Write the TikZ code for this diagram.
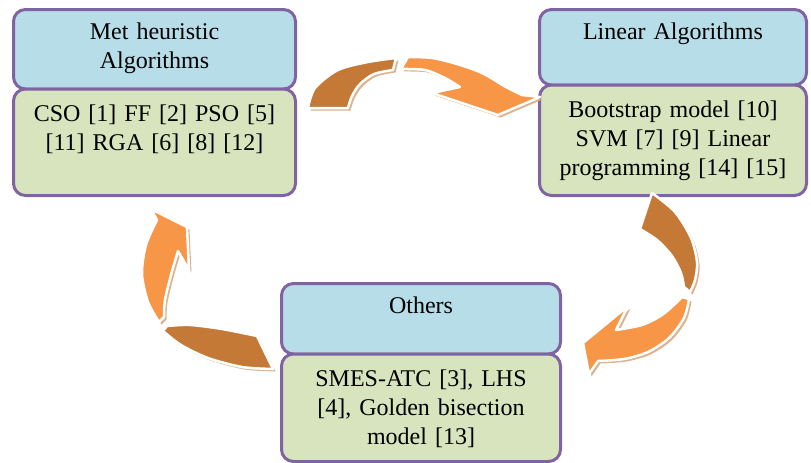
\documentclass[tikz,border=0pt]{standalone}
\usepackage{fontspec}
\setmainfont{Liberation Serif}
\usetikzlibrary{positioning, shadows}

\definecolor{cajaazul}{RGB}{183,221,232}
\definecolor{cajaverde}{RGB}{215,228,189}
\definecolor{borde}{RGB}{128,100,162}
\definecolor{naranjaosc}{RGB}{196,121,54}
\definecolor{naranjacla}{RGB}{247,150,70}
\definecolor{sombra}{RGB}{214,172,134}

\begin{document}
\begin{tikzpicture}[x=1pt, y=-1pt, node distance=0pt,
    caja/.style={draw=borde, line width=3pt, rounded corners=12pt, inner xsep=6pt, inner ysep=0pt,
        outer sep=0pt, align=center, font=\fontsize{24}{29}\selectfont},
    titulo/.style={caja, fill=cajaazul, text height=30pt},
    lista/.style={caja, fill=cajaverde, text height=32.5pt},
    pieza/.style={draw=white, line width=2.5pt, line join=round,
        drop shadow={shadow xshift=2.5pt, shadow yshift=-2.5pt, fill=sombra, opacity=0.9}}]
    \useasboundingbox (0,0) rectangle (811,463);

    % Definir cajas de cada grupo
    \node (heur) [titulo, anchor=north, text width=270pt, text depth=49.5pt] at (154.5,9.5) {Met heuristic\\Algorithms};
    \node (heurlist) [lista, below=of heur, text width=270pt, text depth=74pt] {CSO [1] FF [2] PSO [5]\\{}[11] RGA [6] [8] [12]};
    \node (lin) [titulo, anchor=north, text width=255pt, text depth=45.5pt] at (673,9.5) {Linear Algorithms};
    \node (linlist) [lista, below=of lin, text width=255pt, text depth=78pt] {Bootstrap model [10]\\SVM [7] [9] Linear\\programming [14] [15]};
    \node (oth) [titulo, anchor=north, text width=267pt, text depth=40.5pt] at (421,283.5) {Others};
    \node (othlist) [lista, below=of oth, text width=267pt, text depth=75pt] {SMES-ATC [3], LHS\\{}[4], Golden bisection\\model [13]};

    % Flecha superior
    \filldraw[pieza, fill=naranjaosc] plot[smooth] coordinates {(308,108) (315,88) (338,70) (368,62) (396,58)}
        -- plot[smooth] coordinates {(393,70) (374,74) (360,84) (352,96) (348,108)} -- cycle;
    \filldraw[pieza, fill=naranjacla] plot[smooth] coordinates {(408,57) (432,58) (457,64) (482,73) (506,87) (522,95)}
        -- (540,97) -- (498,115) -- (432,93)
        -- plot[smooth] coordinates {(460,87) (445,78) (425,70) (401,69)} -- cycle;

    % Flecha derecha
    \filldraw[pieza, fill=naranjaosc] plot[smooth] coordinates {(652,193) (675,212) (691,238) (697,262) (695,280) (690,292)}
        -- plot[smooth] coordinates {(684,287) (681,273) (672,256) (657,240) (640,229)} -- cycle;
    \filldraw[pieza, fill=naranjacla] plot[smooth] coordinates {(689,299) (684,318) (669,338) (648,352) (624,359) (598,361)}
        -- (589,374) -- (583,343) -- (628,306)
        -- plot[smooth] coordinates {(616,330) (642,325) (662,315) (676,303) (682,297)} -- cycle;

    % Flecha izquierda
    \filldraw[pieza, fill=naranjaosc] plot[smooth] coordinates {(273,369) (242,367) (208,358) (181,345) (163,331)}
        -- plot[smooth] coordinates {(167,326) (190,325) (222,329) (257,336)} -- cycle;
    \filldraw[pieza, fill=naranjacla] plot[smooth] coordinates {(159,322) (148,302) (142,274) (146,245) (157,220)}
        -- (151,209) -- (187,227) -- (189,270)
        -- plot[smooth] coordinates {(178,251) (171,275) (165,300) (164,317)} -- cycle;
\end{tikzpicture}
\end{document}
